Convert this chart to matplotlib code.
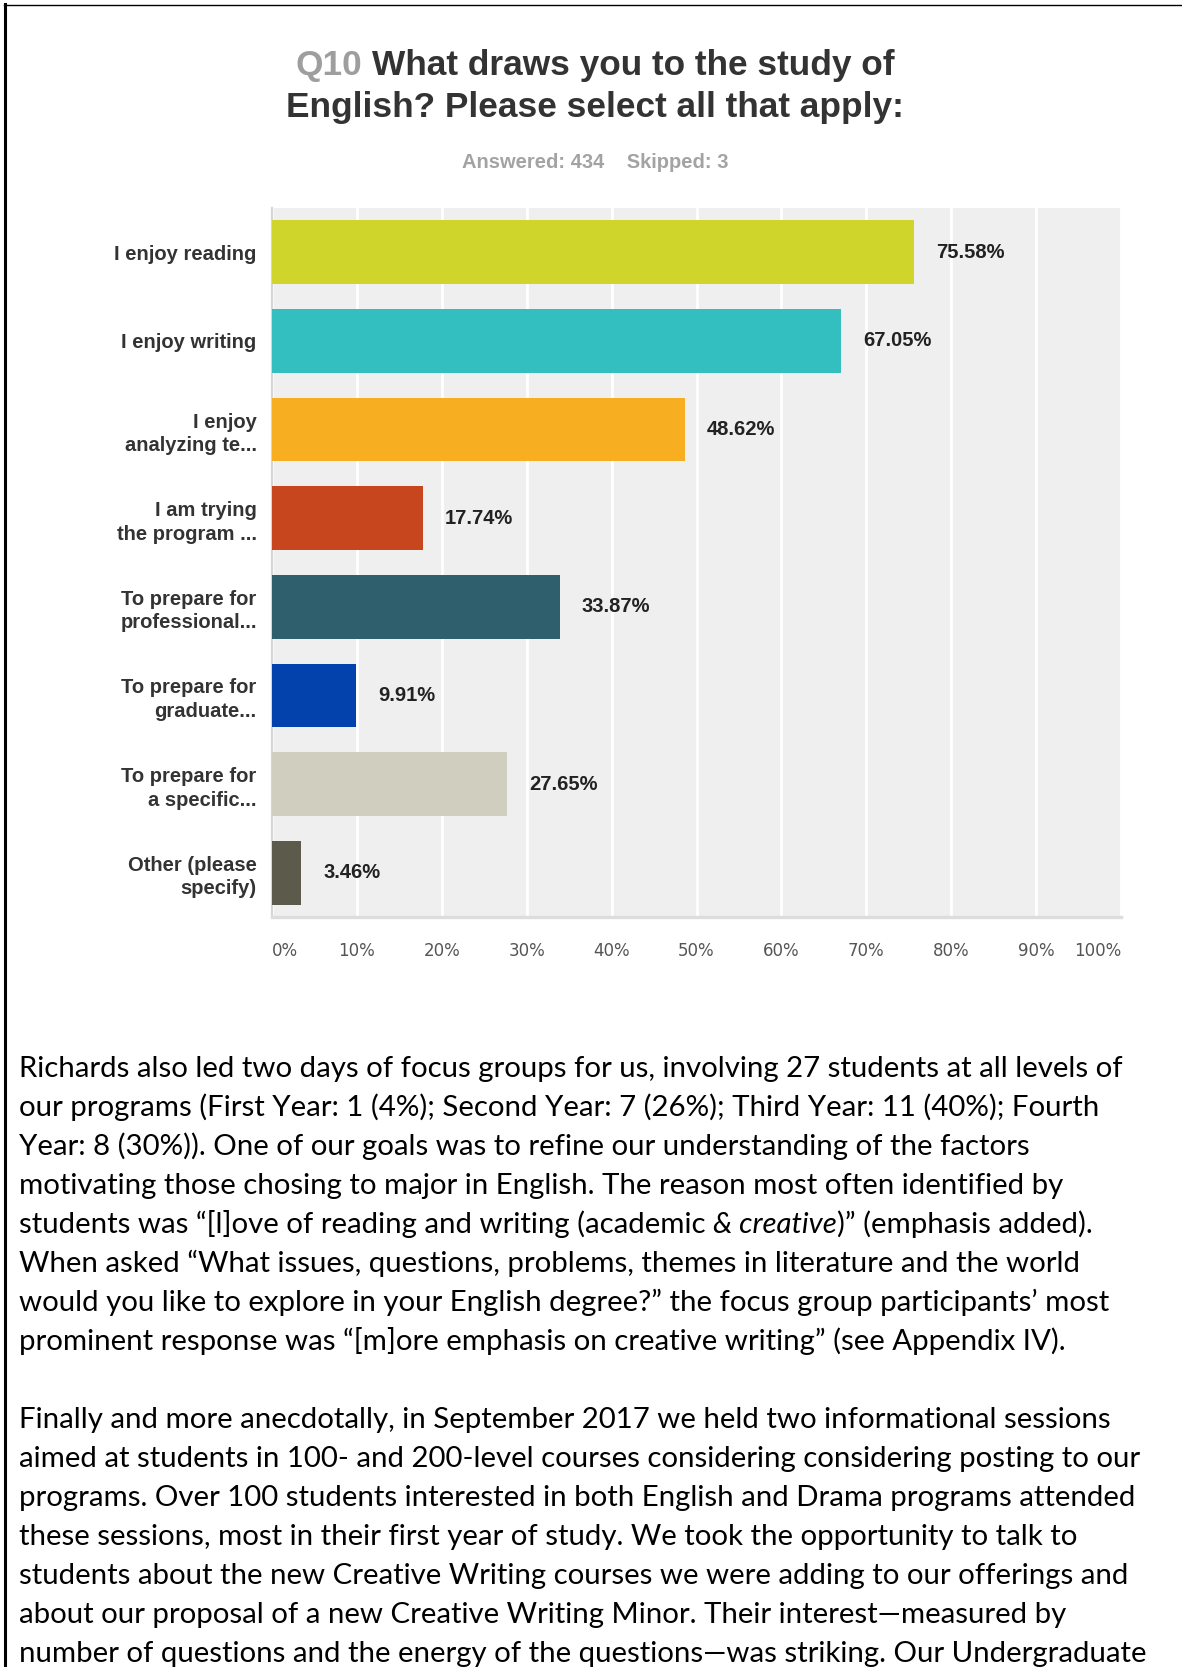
import matplotlib
matplotlib.use("Agg")
import matplotlib.pyplot as plt
from matplotlib.lines import Line2D

# survey question
q_number = "Q10"
q_line1 = "What draws you to the study of"
q_line2 = "English? Please select all that apply:"
answered_text = "Answered: 434    Skipped: 3"

categories = ["I enjoy reading", "I enjoy writing", "I enjoy\nanalyzing te...",
              "I am trying\nthe program ...", "To prepare for\nprofessional...",
              "To prepare for\ngraduate...", "To prepare for\na specific...",
              "Other (please\nspecify)"]
percents = [75.58, 67.05, 48.62, 17.74, 33.87, 9.91, 27.65, 3.46]
bar_colors = ["#CFD52A", "#33BEBF", "#F7AE20", "#C8461E",
              "#2F5F6D", "#0341AC", "#D0CEBF", "#5B5A4B"]
xticks = list(range(0, 101, 10))
xtick_labels = [str(t) + "%" for t in xticks]

body_lines = [
    "Richards also led two days of focus groups for us, involving 27 students at all levels of",
    "our programs (First Year: 1 (4%); Second Year: 7 (26%); Third Year: 11 (40%); Fourth",
    "Year: 8 (30%)). One of our goals was to refine our understanding of the factors",
    "motivating those chosing to major in English. The reason most often identified by",
    None,
    "When asked \u201cWhat issues, questions, problems, themes in literature and the world",
    "would you like to explore in your English degree?\u201d the focus group participants\u2019 most",
    "prominent response was \u201c[m]ore emphasis on creative writing\u201d (see Appendix IV).",
    "",
    "Finally and more anecdotally, in September 2017 we held two informational sessions",
    "aimed at students in 100- and 200-level courses considering considering posting to our",
    "programs. Over 100 students interested in both English and Drama programs attended",
    "these sessions, most in their first year of study. We took the opportunity to talk to",
    "students about the new Creative Writing courses we were adding to our offerings and",
    "about our proposal of a new Creative Writing Minor. Their interest\u2014measured by",
    "number of questions and the energy of the questions\u2014was striking. Our Undergraduate",
]
# the line with italics, in pieces: (text, italic?)
mixed_line = [("students was \u201c[l]ove of reading and writing (academic ", False),
              ("& creative", True),
              (")\u201d (emphasis added).", False)]

W, H = 1182, 1667
fig = plt.figure(figsize=(W / 100, H / 100), dpi=100)

# full-page axes in pixel units for the page text
bg = fig.add_axes([0, 0, 1, 1])
bg.set_xlim(0, W)
bg.set_ylim(H, 0)
bg.axis("off")

# page border (left and top)
fig.add_artist(Line2D([5 / W, 5 / W], [0, 1 - 4 / H], transform=fig.transFigure,
                      color="black", lw=2.2))
fig.add_artist(Line2D([4 / W, 1], [1 - 5.5 / H, 1 - 5.5 / H], transform=fig.transFigure,
                      color="black", lw=1))

# title
tfont = dict(fontsize=25.4, fontweight="bold", family="Liberation Sans")
full1 = bg.text(595, 65, q_number + " " + q_line1, ha="center", va="center", alpha=0, **tfont)
bg.annotate(q_number, xy=(0, 0), xycoords=full1, ha="left", va="bottom", color="#9E9E9E", **tfont)
bg.annotate(q_line1, xy=(1, 0), xycoords=full1, ha="right", va="bottom", color="#333333", **tfont)
bg.text(595, 107, q_line2, ha="center", va="center", color="#333333", **tfont)
bg.text(595, 162, answered_text, ha="center", va="center", color="#A3A3A3",
        fontsize=14.5, fontweight="bold", family="Liberation Sans")

# bar chart
ax = fig.add_axes([272 / W, 1 - 917 / H, 849 / W, 709 / H])
ax.set_facecolor("#EFEFEF")
ypos = list(range(len(categories)))
ax.barh(ypos, percents, height=0.718, color=bar_colors, zorder=3)
for y, v in zip(ypos, percents):
    ax.annotate(f"{v:.2f}%", xy=(v, y), xytext=(16, 0), textcoords="offset points",
                ha="left", va="center", fontsize=14.5, fontweight="bold",
                family="Liberation Sans", color="#222222")
ax.set_xlim(0, 100)
ax.set_ylim(len(categories) - 0.5, -0.5)
ax.set_xticks(xticks)
ax.set_xticklabels(xtick_labels, fontsize=12, family="DejaVu Sans", color="#555555")
tl = ax.get_xticklabels()
tl[0].set_ha("left")
tl[-1].set_ha("right")
ax.set_yticks(ypos)
ax.set_yticklabels(categories, fontsize=14.5, fontweight="bold", family="Liberation Sans",
                   color="#333333", linespacing=1.3)
ax.tick_params(axis="x", length=0, pad=18)
ax.tick_params(axis="y", length=0, pad=11)
ax.grid(axis="x", color="white", lw=2)
ax.set_axisbelow(True)
for s in ["top", "right"]:
    ax.spines[s].set_visible(False)
ax.spines["left"].set_color("#D6D6D6")
ax.spines["left"].set_linewidth(1.6)
ax.spines["bottom"].set_color("#DDDDDD")
ax.spines["bottom"].set_linewidth(2.4)

# body text
bfont = dict(fontsize=21.2, family="Lato", color="black")
x0, y0, dy = 19, 1076.5, 39.0
for i, line in enumerate(body_lines):
    y = y0 + i * dy
    if line is None:
        prev = bg.text(x0, y, mixed_line[0][0], va="baseline", ha="left", **bfont)
        for txt, it in mixed_line[1:]:
            prev = bg.annotate(txt, xy=(1, 0), xycoords=prev, ha="left", va="bottom",
                               fontstyle="italic" if it else "normal", **bfont)
    elif line:
        bg.text(x0, y, line, va="baseline", ha="left", **bfont)

fig.savefig("out.png", dpi=100)
